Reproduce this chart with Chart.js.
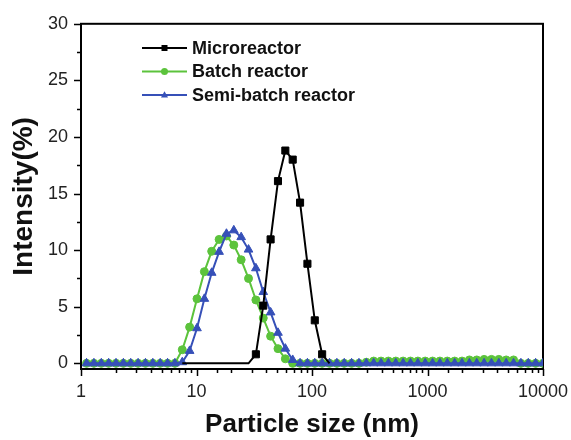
<!DOCTYPE html>
<html>
<head>
<meta charset="utf-8">
<script src="https://cdn.jsdelivr.net/npm/chart.js@4.4.1/dist/chart.umd.min.js"></script>
<style>
  html, body { margin: 0; padding: 0; background: #fff; }
</style>
</head>
<body>
<canvas id="myChart" width="571" height="440"></canvas>
<script>
// particle size bins (nm), log spaced like the DLS output
const sizes = [1.117, 1.294, 1.499, 1.736, 2.01, 2.328, 2.696, 3.122, 3.615, 4.187,
  4.849, 5.615, 6.503, 7.531, 8.721, 10.1, 11.7, 13.54, 15.69, 18.17,
  21.04, 24.36, 28.21, 32.67, 37.84, 43.82, 50.75, 58.77, 68.06, 78.82,
  91.28, 105.7, 122.4, 141.8, 164.2, 190.1, 220.2, 255.0, 295.3, 342.0,
  396.1, 458.7, 531.2, 615.1, 712.4, 825.0, 955.4, 1106, 1281, 1484,
  1718, 1990, 2305, 2669, 3091, 3580, 4145, 4801, 5560, 6439,
  7456, 8635, 10000];

// intensity (%) per bin, null = no point
const microreactor = [null, null, null, null, null, null, null, null, null, null,
  null, null, null, 0, 0, 0, 0, 0, 0, 0,
  0, 0, 0, 0.8, 5.1, 10.95, 16.1, 18.8, 18.0, 14.2,
  8.8, 3.8, 0.8, 0, null, null, null, null, null, null,
  null, null, null, null, null, null, null, null, null, null,
  null, null, null, null, null, null, null, null, null, null,
  null, null, null];

const batchReactor = [0, 0, 0, 0, 0, 0, 0, 0, 0, 0,
  0, 0, 0, 1.2, 3.2, 5.7, 8.1, 9.9, 10.95, 11.25,
  10.45, 9.15, 7.5, 5.6, 4.0, 2.4, 1.3, 0.4, 0, 0,
  0, 0, 0, 0, 0, 0, 0, 0, 0.1, 0.2,
  0.2, 0.2, 0.2, 0.2, 0.2, 0.2, 0.2, 0.2, 0.2, 0.2,
  0.2, 0.2, 0.3, 0.3, 0.35, 0.35, 0.35, 0.3, 0.3, 0,
  0, 0, 0];

const semiBatchReactor = [0, 0, 0, 0, 0, 0, 0, 0, 0, 0,
  0, 0, 0, 0.1, 1.1, 3.1, 5.7, 8.0, 9.85, 11.45,
  11.75, 11.15, 10.05, 8.4, 6.3, 4.5, 2.7, 1.3, 0.3, 0,
  0, 0, 0, 0, 0, 0, 0, 0, 0, 0,
  0, 0, 0, 0, 0, 0, 0, 0, 0, 0,
  0, 0, 0, 0, 0, 0, 0, 0, 0, 0,
  0, 0, 0];

const seriesNames = ['Microreactor', 'Batch reactor', 'Semi-batch reactor'];
const seriesColors = ['#000000', '#5cc33c', '#3650b8'];
const seriesMarkers = ['rect', 'circle', 'triangle'];

const yTicks = [0, 5, 10, 15, 20, 25, 30];
const xTicks = [1, 10, 100, 1000, 10000];

const FONT = '"Liberation Sans", Arial, Helvetica, sans-serif';

function toPoints(values) {
    return sizes.map((s, i) => ({ x: s, y: values[i] }));
}

function isDecade(v) {
    const l = Math.log10(v);
    return Math.abs(l - Math.round(l)) < 1e-9;
}

function drawMarker(ctx, style, x, y, r) {
    ctx.beginPath();
    if (style === 'rect') {
        ctx.rect(x - r, y - r, 2 * r, 2 * r);
    } else if (style === 'circle') {
        ctx.arc(x, y, r, 0, Math.PI * 2);
    } else {
        ctx.moveTo(x, y - r * 1.1);
        ctx.lineTo(x + r, y + r * 0.7);
        ctx.lineTo(x - r, y + r * 0.7);
        ctx.closePath();
    }
    ctx.fill();
}

// frame and outward tick marks, drawn under the data
const framePlugin = {
    id: 'frame',
    beforeDatasetsDraw(chart) {
        const ctx = chart.ctx;
        const area = chart.chartArea;
        const xs = chart.scales.x;
        const ys = chart.scales.y;
        ctx.save();
        ctx.strokeStyle = '#000';
        ctx.lineWidth = 1.5;
        ctx.beginPath();
        xs.ticks.forEach(t => {
            const px = Math.round(xs.getPixelForValue(t.value)) + 0.5;
            const len = isDecade(t.value) ? 7 : 4;
            ctx.moveTo(px, area.bottom);
            ctx.lineTo(px, area.bottom + len);
        });
        ys.ticks.forEach(t => {
            if (t.value < 0) return;
            const py = Math.round(ys.getPixelForValue(t.value)) + 0.5;
            const len = t.value % 5 === 0 ? 7 : 4;
            ctx.moveTo(area.left, py);
            ctx.lineTo(area.left - len, py);
        });
        ctx.stroke();
        ctx.lineWidth = 2;
        ctx.strokeRect(area.left, area.top, area.right - area.left, area.bottom - area.top);
        ctx.restore();
    }
};

// legend with line + marker, inside the plot
const legendPlugin = {
    id: 'lineLegend',
    afterDraw(chart) {
        const ctx = chart.ctx;
        const x0 = 142, x1 = 187;
        const rows = [48, 71.5, 95];
        ctx.save();
        chart.data.datasets.forEach((ds, i) => {
            const y = rows[i];
            ctx.strokeStyle = ds.borderColor;
            ctx.fillStyle = ds.borderColor;
            ctx.lineWidth = 2;
            ctx.beginPath();
            ctx.moveTo(x0, y);
            ctx.lineTo(x1, y);
            ctx.stroke();
            drawMarker(ctx, seriesMarkers[i], (x0 + x1) / 2, y, seriesMarkers[i] === 'rect' ? 3 : 3.5);
            ctx.fillStyle = '#111';
            ctx.font = 'bold 18px ' + FONT;
            ctx.textBaseline = 'middle';
            ctx.textAlign = 'left';
            ctx.fillText(ds.label, x1 + 5, y + 1);
        });
        ctx.restore();
    }
};

const allSeries = [microreactor, batchReactor, semiBatchReactor];
const drawOrder = [0, 2, 1]; // black on top, then blue, then green

const ctx = document.getElementById('myChart').getContext('2d');
const myChart = new Chart(ctx, {
    type: 'line',
    data: {
        datasets: allSeries.map((vals, i) => ({
            label: seriesNames[i],
            data: toPoints(vals),
            borderColor: seriesColors[i],
            backgroundColor: seriesColors[i],
            borderWidth: 2,
            pointStyle: seriesMarkers[i],
            pointRadius: i === 0
                ? (c => (c.raw && c.raw.y > 0 ? 5 : 0))
                : (seriesMarkers[i] === 'circle' ? 4 : 5),
            pointBorderWidth: 1,
            tension: 0,
            spanGaps: false,
            order: drawOrder[i]
        }))
    },
    options: {
        responsive: false,
        animation: false,
        devicePixelRatio: 1,
        layout: { padding: { top: 20, right: 28, left: 0, bottom: 0 } },
        plugins: {
            legend: { display: false },
            tooltip: { enabled: false }
        },
        scales: {
            x: {
                type: 'logarithmic',
                min: 1,
                max: 10000,
                border: { display: false },
                grid: { display: false, drawTicks: false },
                ticks: {
                    autoSkip: false,
                    maxRotation: 0,
                    padding: 12,
                    color: '#222',
                    font: { family: FONT, size: 18 },
                    callback: v => (xTicks.some(t => Math.abs(t - v) < 1e-6) ? String(Math.round(v)) : '')
                },
                title: {
                    display: true,
                    text: 'Particle size (nm)',
                    color: '#111',
                    font: { family: FONT, size: 26, weight: 'bold' },
                    padding: { top: 0, bottom: 0 }
                },
                afterFit: s => { s.height = 71; s.paddingRight = 0; s.paddingLeft = 0; }
            },
            y: {
                type: 'linear',
                min: -0.5,
                max: 30,
                border: { display: false },
                grid: { display: false, drawTicks: false },
                ticks: {
                    stepSize: 2.5,
                    includeBounds: false,
                    padding: 13,
                    color: '#222',
                    font: { family: FONT, size: 18 },
                    callback: v => (yTicks.includes(v) ? String(v) : '')
                },
                title: {
                    display: true,
                    text: 'Intensity(%)',
                    color: '#111',
                    font: { family: FONT, size: 28, weight: 'bold' },
                    padding: { top: 7, bottom: 0 }
                },
                afterFit: s => { s.width = 81; }
            }
        }
    },
    plugins: [framePlugin, legendPlugin]
});
</script>
</body>
</html>
